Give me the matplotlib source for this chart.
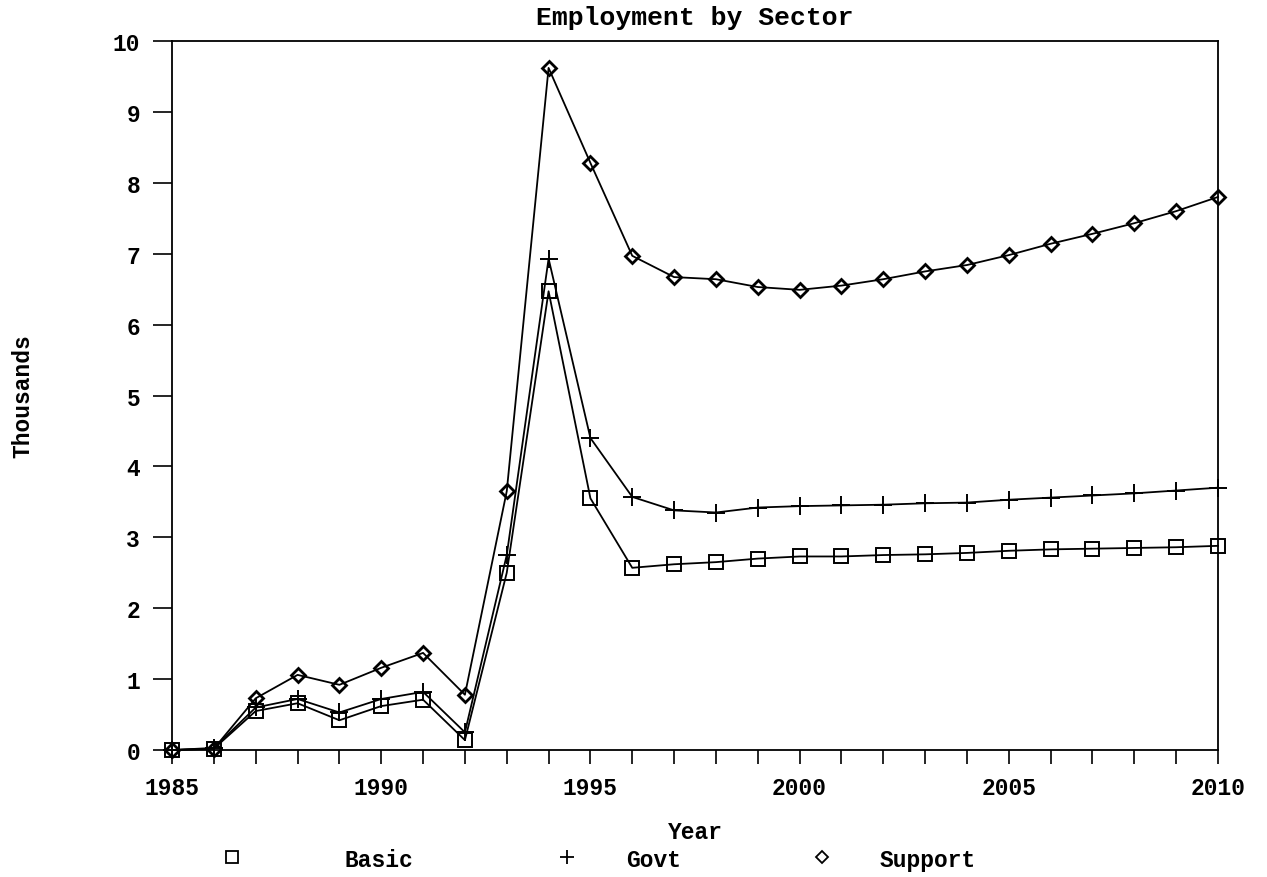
import matplotlib
matplotlib.use("Agg")
import matplotlib.pyplot as plt
from matplotlib.lines import Line2D

years = list(range(1985, 2011))

basic = [0.0, 0.02, 0.55, 0.66, 0.42, 0.62, 0.71, 0.14, 2.50, 6.47, 3.55, 2.57,
         2.62, 2.65, 2.70, 2.73, 2.73, 2.75, 2.76, 2.78, 2.81, 2.83, 2.84, 2.85,
         2.86, 2.88]
govt = [0.0, 0.03, 0.60, 0.72, 0.53, 0.72, 0.82, 0.25, 2.75, 6.93, 4.40, 3.57,
        3.38, 3.35, 3.42, 3.44, 3.45, 3.46, 3.48, 3.49, 3.53, 3.56, 3.59, 3.62,
        3.66, 3.70]
support = [0.0, 0.02, 0.73, 1.06, 0.92, 1.16, 1.37, 0.78, 3.65, 9.62, 8.28, 6.97,
           6.67, 6.64, 6.53, 6.49, 6.55, 6.64, 6.75, 6.84, 6.98, 7.14, 7.28, 7.43,
           7.60, 7.80]

series_names = ["Basic", "Govt", "Support"]

FONT = "Liberation Mono"
SIZE = 16.5

fig = plt.figure(figsize=(12.67, 8.78), dpi=100)
ax = fig.add_axes([0.1358, 0.1446, 0.8255, 0.8076])

line_kw = dict(color="black", linewidth=1.3, markerfacecolor="none",
               markeredgecolor="black", clip_on=False)
ax.plot(years, basic, marker="s", markersize=10, markeredgewidth=1.4, **line_kw)
ax.plot(years, govt, marker="+", markersize=13, markeredgewidth=1.4, **line_kw)
ax.plot(years, support, marker="D", markersize=7, markeredgewidth=2.0, **line_kw)

ax.set_xlim(1985, 2010)
ax.set_ylim(0, 10)
ax.set_xticks(years)
ax.set_xticklabels([str(y) if y % 5 == 0 else "" for y in years])
ax.set_yticks(range(0, 11))
ax.tick_params(axis="both", direction="out", color="black", width=1.2,
               labelsize=SIZE)
ax.tick_params(axis="y", length=14, pad=9)
ax.tick_params(axis="x", length=10, pad=9)
for lbl in ax.get_xticklabels() + ax.get_yticklabels():
    lbl.set_fontfamily(FONT)
    lbl.set_fontweight("bold")
for sp in ax.spines.values():
    sp.set_linewidth(1.3)

ax.set_title("Employment by Sector", fontsize=19, fontweight="bold",
             family=FONT, pad=12)
ax.set_ylabel("Thousands", fontsize=SIZE, fontweight="bold", family=FONT)
ax.yaxis.set_label_coords(-0.132, 0.5)
fig.text(0.5485, 0.0513, "Year", ha="center", va="center", fontsize=SIZE,
         fontweight="bold", family=FONT)

# legend entries sit at uneven spacing, so each gets its own legend
handles = [
    Line2D([], [], linestyle="none", marker="s", markersize=8,
           markerfacecolor="none", markeredgecolor="black", markeredgewidth=1.3),
    Line2D([], [], linestyle="none", marker="+", markersize=10,
           markeredgecolor="black", markeredgewidth=1.3),
    Line2D([], [], linestyle="none", marker="D", markersize=6,
           markerfacecolor="none", markeredgecolor="black", markeredgewidth=1.3),
]
legend_x = [0.1740, 0.4384, 0.6397]
text_pads = [4.41, 2.1, 2.0]
for handle, name, x0, tp in zip(handles, series_names, legend_x, text_pads):
    fig.legend([handle], [name], loc="center left",
               bbox_to_anchor=(x0, 0.0205), frameon=False,
               handlelength=1.0, handletextpad=tp, borderpad=0,
               borderaxespad=0,
               prop={"family": FONT, "weight": "bold", "size": SIZE})

fig.savefig("out.png", dpi=100)
